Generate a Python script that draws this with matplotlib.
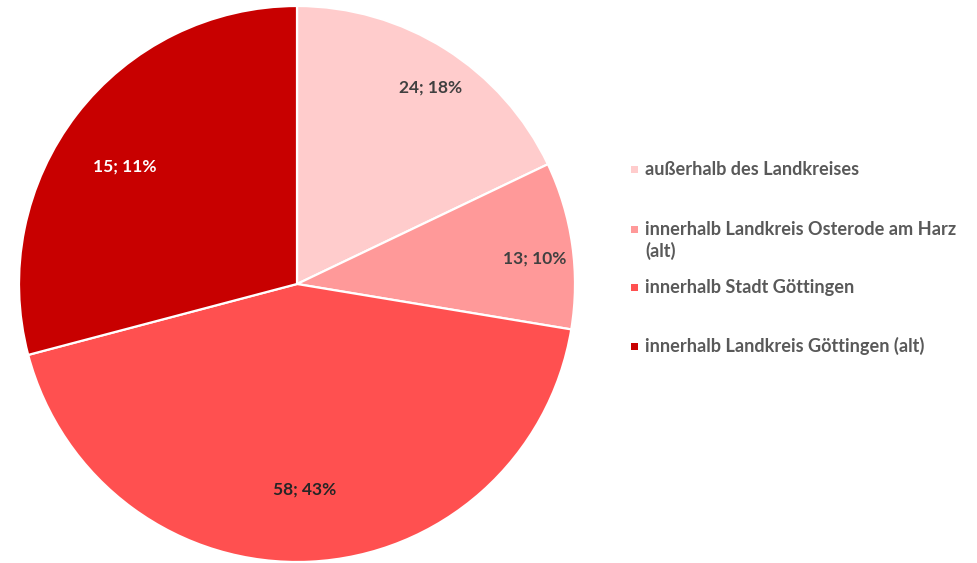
import matplotlib
matplotlib.use("Agg")
import matplotlib.pyplot as plt
from matplotlib.patches import Rectangle
import numpy as np

categories = ["außerhalb des Landkreises",
              "innerhalb Landkreis Osterode am Harz\n(alt)",
              "innerhalb Stadt Göttingen",
              "innerhalb Landkreis Göttingen (alt)"]
counts = [24, 13, 58, 15]
percents = [18, 10, 43, 11]
# slice sizes as drawn in the reference (dark slice covers ~29 % of the circle)
drawn_sizes = [24, 13, 58, 39]
colors = ["#FFCCCC", "#FF9999", "#FF5050", "#C80000"]
label_colors = ["#404040", "#404040", "#262626", "#FFFFFF"]
label_dist = [0.856, 0.861, 0.741, 0.75]
label_angle_offset = [-1.9, -1.9, -0.5, 3.3]

W, H = 977, 563
cx, cy, r = 297, 284, 278
fig = plt.figure(figsize=(W / 100, H / 100), dpi=100)
ax = fig.add_axes([(cx - r) / W, (H - cy - r) / H, 2 * r / W, 2 * r / H])
wedges, _ = ax.pie(drawn_sizes, colors=colors, startangle=90, counterclock=False,
                   wedgeprops=dict(edgecolor="white", linewidth=1.6), radius=1.0)
ax.set_xlim(-1, 1)
ax.set_ylim(-1, 1)
ax.set_aspect("equal")
ax.axis("off")

font = "Lato"
for w, c, p, lc, d, off in zip(wedges, counts, percents, label_colors, label_dist,
                               label_angle_offset):
    ang = np.deg2rad((w.theta1 + w.theta2) / 2 + off)
    ax.text(d * np.cos(ang), d * np.sin(ang), f"{c}; {p}%", ha="center", va="center",
            color=lc, fontsize=12.5, fontweight="bold", family=font)

# legend
leg_baseline = [175, 235, 293, 352]
line_gap = 22
for cat, col, yb in zip(categories, colors, leg_baseline):
    ym = yb - 6
    fig.patches.append(Rectangle((631 / W, 1 - (ym + 3.5) / H), 7 / W, 7 / H,
                                 transform=fig.transFigure, facecolor=col, edgecolor="none"))
    for i, line in enumerate(cat.split("\n")):
        fig.text(645 / W, 1 - (yb + i * line_gap) / H, line, ha="left", va="baseline",
                 color="#595959", fontsize=13.1, fontweight="bold", family=font)

fig.savefig("out.png", dpi=100)
